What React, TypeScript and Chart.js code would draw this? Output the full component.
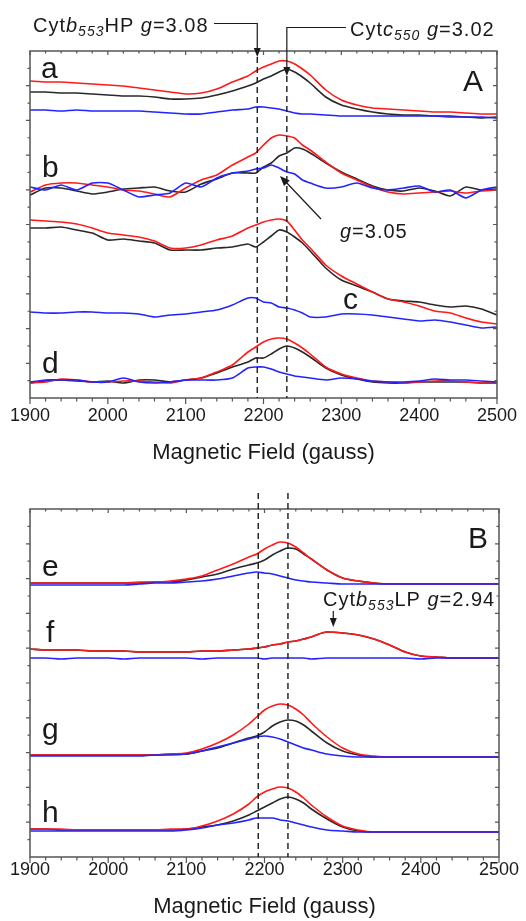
import React, { useEffect, useRef } from 'react';
import { Chart, registerables } from 'chart.js';
Chart.register(...registerables);

// Magnetic field grid (gauss)
const FIELD = [1900,1920,1940,1960,1980,2000,2020,2040,2060,2080,2100,2120,2140,2160,2180,2190,2200,2210,2220,2230,2240,2250,2260,2280,2300,2320,2340,2360,2380,2400,2420,2440,2460,2480,2500];
const X_TICKS = [1900, 2000, 2100, 2200, 2300, 2400, 2500];

// Panel A (arbitrary intensity units, offset stacked)
const A_RED_a   = [317,316,316,315,314,313,312,310,308,306,304,305,309,316,322,327,331,334,337,337,334,329,323,308,298,293,290,289,288,287,286,286,285,284,284];
const A_BLACK_a = [306,306,305,305,304,303,302,302,301,299,299,300,303,307,312,315,319,322,326,329,326,321,315,301,293,289,286,284,283,283,282,282,281,280,281];
const A_BLUE_a  = [288,288,287,288,287,287,287,287,286,285,284,284,286,288,289,291,291,290,289,287,285,284,284,283,282,282,282,282,282,282,282,281,281,281,280];
const A_RED_b   = [206,213,215,215,213,211,208,207,204,201,210,218,223,233,241,245,253,260,263,262,260,253,248,236,225,218,211,206,204,205,206,207,205,207,208];
const A_BLACK_b = [203,210,210,207,204,206,209,210,211,207,206,214,219,225,225,225,231,235,242,245,250,249,245,235,226,219,212,208,207,210,207,202,211,208,209];
const A_BLUE_b  = [211,208,213,208,215,215,208,201,203,205,215,211,220,225,227,229,230,233,230,226,224,218,215,210,211,215,210,208,210,212,206,208,200,208,211];
const A_RED_c   = [178,177,176,174,170,165,163,161,157,150,150,153,158,162,170,173,176,178,179,177,168,158,150,133,122,114,106,99,96,92,87,85,80,76,74];
const A_BLACK_c = [170,170,171,168,165,158,159,157,155,148,148,148,150,151,154,151,156,162,168,166,161,155,147,130,118,112,106,99,97,96,93,91,92,89,83];
const A_BLUE_c  = [86,85,85,86,86,85,85,84,81,83,84,86,88,93,100,100,96,95,91,90,88,85,81,81,84,84,83,81,79,77,78,76,73,70,71];
const A_RED_d   = [15,16,19,18,16,16,17,17,16,15,18,20,26,33,46,51,56,59,60,59,55,50,44,31,24,20,17,16,15,16,17,17,16,15,15];
const A_BLACK_d = [15,17,18,17,16,17,15,18,18,16,18,20,25,31,36,40,40,44,49,52,50,46,41,30,23,19,16,15,15,16,16,16,16,15,15];
const A_BLUE_d  = [16,18,18,18,16,16,20,16,15,16,18,18,18,20,30,31,31,29,26,24,22,21,20,18,20,19,17,16,16,17,19,18,18,17,16];
const A_MAX = 347;

// Panel B (simulations)
const B_RED_e   = [274,274,274,274,274,274,274,275,275,276,278,281,287,293,300,303,308,312,315,314,310,304,298,287,279,276,274,273,273,273,273,273,273,273,273];
const B_BLACK_e = [274,274,274,274,274,274,274,274,275,275,277,280,283,288,292,294,297,302,306,309,308,303,298,287,279,276,274,273,273,273,273,273,273,273,273];
const B_BLUE_e  = [272,272,272,272,272,272,272,273,274,274,275,276,278,281,284,285,284,283,281,279,277,276,275,274,273,273,273,273,273,273,273,273,273,273,273];
const B_RED_f   = [208,207,207,207,206,206,206,205,205,205,205,206,206,207,208,209,210,212,213,215,216,218,220,225,224,222,218,212,205,201,200,199,199,199,199];
const B_BLACK_f = [208,207,207,207,206,206,206,205,205,205,205,206,206,207,208,209,210,212,213,215,216,218,220,225,224,222,218,212,205,201,200,199,199,199,199];
const B_BLUE_f  = [199,199,198,199,199,199,198,199,199,199,199,198,199,199,199,199,198,199,199,199,199,199,198,199,199,199,199,199,199,198,199,199,199,199,199];
const B_RED_g   = [102,102,102,102,102,102,102,102,102,103,104,108,114,122,133,140,147,151,153,152,148,142,134,120,109,103,101,100,100,100,100,100,100,100,100];
const B_BLACK_g = [102,102,102,102,102,102,102,102,102,103,103,106,109,114,119,121,125,131,135,137,136,132,126,114,106,102,100,100,100,100,100,100,100,100,100];
const B_BLUE_g  = [101,101,101,101,101,101,101,101,102,102,103,106,110,114,118,120,121,120,118,115,112,109,107,103,101,100,100,100,100,100,100,100,100,100,100];
const B_RED_h   = [28,28,28,27,27,27,27,27,27,28,28,31,36,43,53,60,65,68,70,69,65,59,52,40,31,27,25,25,25,25,25,25,25,25,25];
const B_BLACK_h = [28,28,27,27,27,27,27,27,27,27,28,30,32,36,42,46,50,54,58,60,58,54,48,38,30,26,25,25,25,25,25,25,25,25,25];
const B_BLUE_h  = [26,26,26,26,26,26,26,26,26,26,27,29,32,34,37,39,39,39,37,36,34,32,30,27,26,25,25,25,25,25,25,25,25,25,25];
const B_MAX = 348;

// Marker fields (gauss)
const G_HP = 2192;
const G_C550 = 2230;
const G_LP = 2288;

const FONT = '"Liberation Sans", Arial, Helvetica, sans-serif';
const INK = '#1a1a1a';
const FRAME = '#555';
const RED = 'rgb(255,25,25)';
const BLACK = 'rgb(40,40,40)';
const BLUE = 'rgb(35,35,255)';

function ds(values: number[], color: string, smooth: boolean) {
  return {
    data: FIELD.map((x, i) => ({ x, y: values[i] })),
    borderColor: color,
    borderWidth: 1.6,
    pointRadius: 0,
    fill: false,
    tension: smooth ? 0 : 0.2,
    cubicInterpolationMode: smooth ? 'monotone' : 'default',
  };
}

function group(red: number[], black: number[], blue: number[], smooth: boolean) {
  // first = drawn on top
  return [ds(blue, BLUE, smooth), ds(red, RED, smooth), ds(black, BLACK, smooth)];
}

type Part = { t: string; it?: boolean; sub?: boolean };
function drawRich(ctx: CanvasRenderingContext2D, parts: Part[], x: number, y: number, size: number) {
  let cx = x;
  ctx.textAlign = 'left';
  ctx.textBaseline = 'alphabetic';
  (ctx as any).letterSpacing = '1px';
  for (const p of parts) {
    const s = p.sub ? Math.round(size * 0.68) : size;
    ctx.font = `${p.it ? 'italic ' : ''}${s}px ${FONT}`;
    const yy = p.sub ? y + size * 0.22 : y;
    ctx.fillText(p.t, cx, yy);
    cx += ctx.measureText(p.t).width;
  }
  (ctx as any).letterSpacing = '0px';
  return cx;
}

function arrowHead(ctx: CanvasRenderingContext2D, tx: number, ty: number, fx: number, fy: number, len = 9, half = 3.5) {
  const dx = tx - fx, dy = ty - fy;
  const d = Math.hypot(dx, dy);
  const ux = dx / d, uy = dy / d;
  const bx = tx - ux * len, by = ty - uy * len;
  ctx.beginPath();
  ctx.moveTo(tx, ty);
  ctx.lineTo(bx - uy * half, by + ux * half);
  ctx.lineTo(bx + uy * half, by - ux * half);
  ctx.closePath();
  ctx.fill();
}

function drawFrame(chart: any, yMax: number) {
  const { ctx, chartArea } = chart;
  const { left, right, top, bottom } = chartArea;
  const xs = chart.scales.x, ys = chart.scales.y;
  ctx.save();
  ctx.strokeStyle = FRAME;
  ctx.lineWidth = 1.5;
  ctx.strokeRect(left, top, right - left, bottom - top);
  ctx.lineWidth = 1.2;
  ctx.beginPath();
  for (let g = 1900; g <= 2500; g += 20) {
    const px = xs.getPixelForValue(g);
    const major = g % 100 === 0;
    ctx.moveTo(px, bottom);
    ctx.lineTo(px, bottom + (major ? 6 : 3.5));
    ctx.moveTo(px, top);
    ctx.lineTo(px, top + (major ? 4 : 2.5));
  }
  for (let i = 1; i < 20; i++) {
    const py = ys.getPixelForValue((yMax * i) / 20);
    const major = i % 2 === 0;
    ctx.moveTo(left, py);
    ctx.lineTo(left - (major ? 4 : 2.5), py);
    ctx.moveTo(right, py);
    ctx.lineTo(right - (major ? 4 : 2.5), py);
  }
  ctx.stroke();
  ctx.restore();
}

function letter(ctx: CanvasRenderingContext2D, t: string, x: number, y: number) {
  ctx.font = `30px ${FONT}`;
  ctx.textAlign = 'left';
  ctx.textBaseline = 'alphabetic';
  ctx.fillStyle = INK;
  ctx.fillText(t, x, y);
}

const annotA = {
  id: 'annotA',
  afterDraw(chart: any) {
    const { ctx, chartArea } = chart;
    const xs = chart.scales.x;
    const bottom = chartArea.bottom;
    drawFrame(chart, A_MAX);
    ctx.save();
    const xHP = xs.getPixelForValue(G_HP);
    const xC = xs.getPixelForValue(G_C550);
    ctx.strokeStyle = INK;
    ctx.fillStyle = INK;
    ctx.lineWidth = 1.4;
    ctx.setLineDash([6, 4]);
    ctx.beginPath();
    ctx.moveTo(xHP, 57); ctx.lineTo(xHP, bottom);
    ctx.moveTo(xC, 76); ctx.lineTo(xC, bottom);
    ctx.stroke();
    ctx.setLineDash([]);
    ctx.lineWidth = 1.2;
    ctx.beginPath();
    ctx.moveTo(214, 23.5); ctx.lineTo(xHP, 23.5); ctx.lineTo(xHP, 50);
    ctx.moveTo(346, 27.5); ctx.lineTo(xC, 27.5); ctx.lineTo(xC, 69);
    ctx.moveTo(321, 219); ctx.lineTo(284, 180);
    ctx.stroke();
    arrowHead(ctx, xHP, 57, xHP, 40);
    arrowHead(ctx, xC, 76, xC, 60);
    arrowHead(ctx, 280, 176, 321, 219, 10, 4);

    drawRich(ctx, [{ t: 'Cyt' }, { t: 'b', it: true }, { t: '553', it: true, sub: true }, { t: 'HP ' }, { t: 'g', it: true }, { t: '=3.08' }], 33, 32, 20);
    drawRich(ctx, [{ t: 'Cyt' }, { t: 'c', it: true }, { t: '550', it: true, sub: true }, { t: ' ' }, { t: 'g', it: true }, { t: '=3.02' }], 350, 36, 20);
    drawRich(ctx, [{ t: 'g', it: true }, { t: '=3.05' }], 340, 238, 20);

    letter(ctx, 'a', 41, 78);
    letter(ctx, 'A', 463, 91);
    letter(ctx, 'b', 42, 177);
    letter(ctx, 'c', 343, 309);
    letter(ctx, 'd', 42, 373);
    ctx.restore();
  },
};

const annotB = {
  id: 'annotB',
  afterDraw(chart: any) {
    const { ctx, chartArea } = chart;
    const xs = chart.scales.x;
    const bottom = chartArea.bottom;
    drawFrame(chart, B_MAX);
    ctx.save();
    const xHP = xs.getPixelForValue(G_HP);
    const xC = xs.getPixelForValue(G_C550);
    const xLP = xs.getPixelForValue(G_LP);
    ctx.strokeStyle = INK;
    ctx.fillStyle = INK;
    ctx.lineWidth = 1.4;
    ctx.setLineDash([6, 4]);
    ctx.beginPath();
    ctx.moveTo(xHP, 23); ctx.lineTo(xHP, bottom);
    ctx.moveTo(xC, 23); ctx.lineTo(xC, bottom);
    ctx.stroke();
    ctx.setLineDash([]);
    ctx.lineWidth = 1.2;
    ctx.beginPath();
    ctx.moveTo(xLP, 141); ctx.lineTo(xLP, 150);
    ctx.stroke();
    arrowHead(ctx, xLP, 157, xLP, 140);
    drawRich(ctx, [{ t: 'Cyt' }, { t: 'b', it: true }, { t: '553', it: true, sub: true }, { t: 'LP ' }, { t: 'g', it: true }, { t: '=2.94' }], 323, 136, 20);
    letter(ctx, 'B', 468, 78);
    letter(ctx, 'e', 42, 106);
    letter(ctx, 'f', 46, 172);
    letter(ctx, 'g', 42, 269);
    letter(ctx, 'h', 42, 352);
    ctx.restore();
  },
};

function makeConfig(datasets: any[], yMax: number, pad: any, axisH: number, tickPad: number, titlePad: number, plugin: any) {
  return {
    type: 'line',
    data: { datasets },
    plugins: [plugin],
    options: {
      responsive: false,
      animation: false,
      events: [],
      layout: { padding: pad },
      plugins: { legend: { display: false }, tooltip: { enabled: false }, title: { display: false } },
      scales: {
        x: {
          type: 'linear',
          min: 1900,
          max: 2500,
          grid: { display: false, drawTicks: false },
          border: { display: false },
          afterBuildTicks: (s: any) => { s.ticks = X_TICKS.map((v) => ({ value: v })); },
          ticks: {
            autoSkip: false,
            maxRotation: 0,
            padding: tickPad,
            color: INK,
            font: { family: FONT, size: 18, lineHeight: 1 },
            callback: (v: any) => String(v),
          },
          title: {
            display: true,
            text: 'Magnetic Field (gauss)',
            color: INK,
            font: { family: FONT, size: 22, lineHeight: 1.2 },
            padding: { top: 0, bottom: titlePad },
          },
          afterFit: (s: any) => { s.height = axisH; },
        },
        y: { display: false, min: 0, max: yMax },
      },
    },
  } as any;
}

export default function App() {
  const refA = useRef<HTMLCanvasElement>(null);
  const refB = useRef<HTMLCanvasElement>(null);
  useEffect(() => {
    const dsA = [
      ...group(A_RED_a, A_BLACK_a, A_BLUE_a, false),
      ...group(A_RED_b, A_BLACK_b, A_BLUE_b, false),
      ...group(A_RED_c, A_BLACK_c, A_BLUE_c, false),
      ...group(A_RED_d, A_BLACK_d, A_BLUE_d, false),
    ];
    const dsB = [
      ...group(B_RED_e, B_BLACK_e, B_BLUE_e, true),
      ...group(B_RED_f, B_BLACK_f, B_BLUE_f, true),
      ...group(B_RED_g, B_BLACK_g, B_BLUE_g, true),
      ...group(B_RED_h, B_BLACK_h, B_BLUE_h, true),
    ];
    const a = new Chart(refA.current as HTMLCanvasElement, makeConfig(dsA, A_MAX, { left: 30, right: 27, top: 51, bottom: 0 }, 72, 9, 4, annotA));
    const b = new Chart(refB.current as HTMLCanvasElement, makeConfig(dsB, B_MAX, { left: 30, right: 27, top: 39, bottom: 0 }, 64, 4, 1, annotB));
    return () => { a.destroy(); b.destroy(); };
  }, []);
  return (
    <div style={{ position: 'absolute', left: 0, top: 0, width: 526, height: 921, background: '#fff' }}>
      <canvas ref={refA} width={526} height={470} style={{ position: 'absolute', left: 0, top: 0 }} />
      <canvas ref={refB} width={526} height={451} style={{ position: 'absolute', left: 0, top: 470 }} />
    </div>
  );
}
